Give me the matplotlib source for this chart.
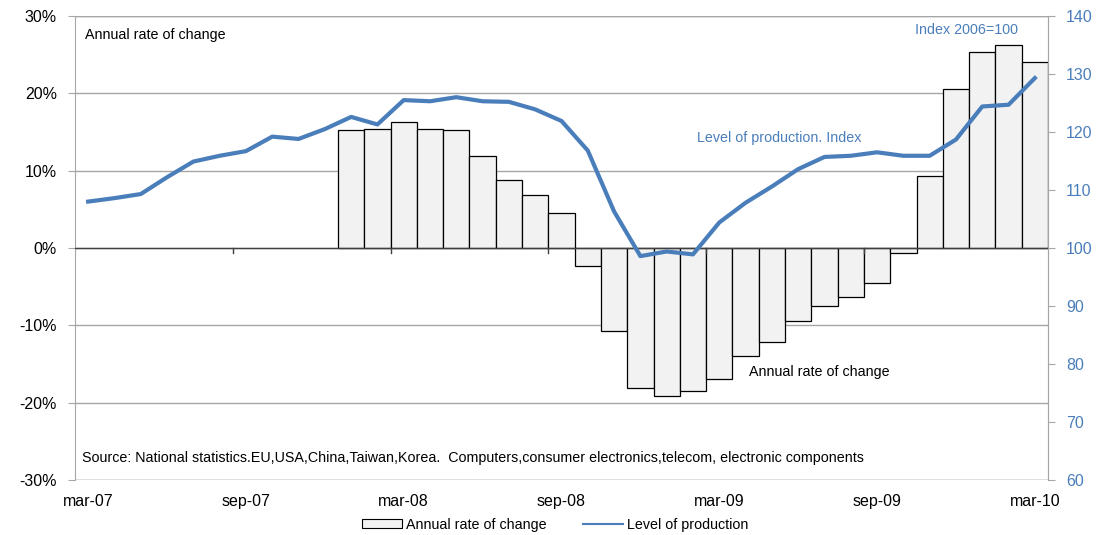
import matplotlib
matplotlib.use("Agg")
import matplotlib.pyplot as plt
import numpy as np
from matplotlib.patches import Patch
from matplotlib.lines import Line2D

plt.rcParams['font.family'] = ['Liberation Sans', 'DejaVu Sans']

months = ['mar-07','apr-07','may-07','jun-07','jul-07','aug-07','sep-07','oct-07','nov-07','dec-07',
          'jan-08','feb-08','mar-08','apr-08','may-08','jun-08','jul-08','aug-08','sep-08','oct-08',
          'nov-08','dec-08','jan-09','feb-09','mar-09','apr-09','may-09','jun-09','jul-09','aug-09',
          'sep-09','oct-09','nov-09','dec-09','jan-10','feb-10','mar-10']

production_index = [108.0, 108.6, 109.3, 112.2, 114.9, 115.9, 116.7, 119.2, 118.8, 120.5,
                    122.6, 121.3, 125.5, 125.3, 126.0, 125.3, 125.2, 123.9, 121.9, 116.8,
                    106.3, 98.6, 99.4, 98.9, 104.4, 107.8, 110.6, 113.6, 115.7, 115.9,
                    116.5, 115.9, 115.9, 118.7, 124.4, 124.7, 129.3]

# annual rate of change (%), available from jan-08
bar_months = months[10:]
annual_rate = [15.2, 15.4, 16.3, 15.4, 15.2, 11.9, 8.8, 6.9, 4.5, -2.3,
               -10.7, -18.1, -19.1, -18.5, -16.9, -14.0, -12.1, -9.4, -7.5, -6.3,
               -4.5, -0.6, 9.3, 20.5, 25.3, 26.3, 24.0]

tick_labels = ['mar-07', 'sep-07', 'mar-08', 'sep-08', 'mar-09', 'sep-09', 'mar-10']

BLUE = '#4A7EBB'
GRID = '#A6A6A6'
TXT = 10.3
TICK = 11.5

W, H = 1109, 535
fig = plt.figure(figsize=(W/100, H/100), dpi=100)
ax = fig.add_axes([75/W, 1-480/H, (1048-75)/W, (480-16)/H])

x_all = np.arange(len(months))
x_bar = np.array([months.index(m) for m in bar_months])

ax.bar(x_bar, annual_rate, width=1.0, color='#F2F2F2', edgecolor='black', linewidth=0.9, zorder=3)
ax.set_xlim(-0.5, len(months) - 0.5)
ax.set_ylim(-30, 30)
ax.set_yticks(np.arange(-30, 31, 10))
ax.set_yticklabels([f'{v}%' for v in range(-30, 31, 10)])
ax.yaxis.grid(True, color=GRID, linewidth=1.0, zorder=0)
ax.set_axisbelow(True)
ax.tick_params(axis='y', length=5, color=GRID, labelsize=TICK, pad=8)

# x tick labels at bottom
ax.set_xticks([months.index(t) for t in tick_labels])
ax.set_xticklabels(tick_labels)
ax.tick_params(axis='x', length=0, labelsize=TICK, pad=10)

for s in ['top', 'bottom']:
    ax.spines[s].set_visible(False)
ax.spines['left'].set_color(GRID)
ax.spines['right'].set_color(GRID)

# zero axis line with ticks at category boundaries
ax.axhline(0, color='#404040', linewidth=1.0, zorder=4)
bounds = np.arange(-0.5, len(months), 6)
for b in bounds[1:-1]:
    ax.plot([b, b], [0, -0.7], color='#404040', linewidth=1.0, zorder=4, clip_on=False)

ax2 = ax.twinx()
ax2.plot(x_all, production_index, color=BLUE, linewidth=3.0, zorder=5, solid_joinstyle='round')
ax2.set_ylim(60, 140)
ax2.set_yticks(np.arange(60, 141, 10))
ax2.tick_params(axis='y', length=5, color=GRID, labelcolor=BLUE, labelsize=TICK, pad=8)
for s in ['top', 'bottom', 'left']:
    ax2.spines[s].set_visible(False)
ax2.spines['right'].set_color(GRID)

# top & bottom frame lines (gray)
ax.axhline(30, color=GRID, linewidth=1.0, zorder=1)
ax.axhline(-30, color=GRID, linewidth=1.0, zorder=1)

ax.text(0.0103, 0.959, 'Annual rate of change', transform=ax.transAxes, fontsize=TXT,
        va='center', ha='left')
ax.text(0.863, 0.970, 'Index 2006=100', transform=ax.transAxes, fontsize=TXT,
        va='center', ha='left', color=BLUE)
ax.text(0.639, 0.737, 'Level of production. Index', transform=ax.transAxes, fontsize=TXT,
        va='center', ha='left', color=BLUE)
ax.text(0.693, 0.233, 'Annual rate of change', transform=ax.transAxes, fontsize=TXT,
        va='center', ha='left', zorder=6)
ax.text(0.0072, 0.047, 'Source: National statistics.EU,USA,China,Taiwan,Korea.  Computers,consumer electronics,telecom, electronic components',
        transform=ax.transAxes, fontsize=TXT, va='center', ha='left')

handles = [Patch(facecolor='#F2F2F2', edgecolor='black', linewidth=0.8),
           Line2D([0], [0], color=BLUE, linewidth=1.5)]
fig.legend(handles, ['Annual rate of change', 'Level of production'], loc='center',
           bbox_to_anchor=(555/W, 1-525/H), ncol=2, frameon=False, fontsize=TXT,
           handlelength=2.8, handleheight=0.6, columnspacing=2.5, handletextpad=0.3)

fig.savefig('out.png', dpi=100)
